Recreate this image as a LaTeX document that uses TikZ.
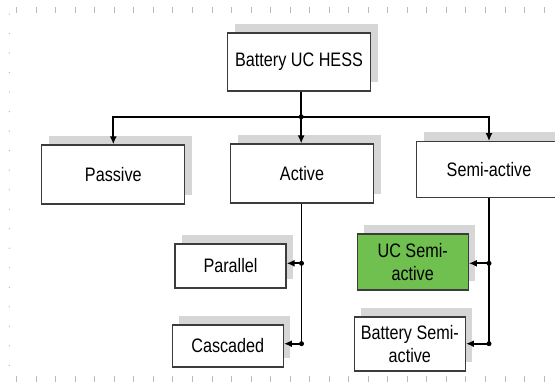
\documentclass[tikz,border=0pt]{standalone}
\usepackage{fontspec}
\setmainfont[FakeStretch=0.83]{Liberation Sans}
\usetikzlibrary{arrows.meta,shadows}
\definecolor{boxline}{RGB}{60,60,60}
\definecolor{shadowgray}{RGB}{214,214,214}
\definecolor{ucgreen}{RGB}{112,192,80}
\definecolor{tickgray}{RGB}{185,185,185}
\begin{document}
\begin{tikzpicture}[x=1pt,y=-1pt,
  box/.style={draw=boxline, line width=1.3pt, fill=white, inner sep=0pt, align=center,
    font=\fontsize{19.5}{22.5}\selectfont,
    general shadow={fill=shadowgray, shadow xshift=7pt, shadow yshift=9.5pt}},
  bigbox/.style={box, minimum width=143pt, minimum height=58pt},
  smallbox/.style={box, minimum width=111pt},
  conn/.style={line width=1.8pt, black},
  arr/.style={conn, -{Latex[length=8pt,width=7pt]}},
  jdot/.style={circle, fill=black, inner sep=0pt, minimum size=5pt},
]
\useasboundingbox (0,0) rectangle (555,381);
\clip (0,0) rectangle (555,381);
% ruler marks
\foreach \i in {0,...,27} {
  \draw[tickgray, line width=0.9pt] ({16.7+19.53*\i},7) -- ++(0,6);
  \draw[tickgray, line width=0.9pt] ({16.7+19.53*\i},376) -- ++(0,6);
}
\foreach \i in {0,...,18} {
  \fill[tickgray] (9.3,{14+19.52*\i}) circle (0.7);
}
% nodes
\node[bigbox] (hess) at (299,62) {Battery UC HESS};
\node[bigbox, minimum height=59pt] (pas) at (113.3,174.5) {Passive};
\node[bigbox, minimum height=59pt] (act) at (302,173.6) {Active};
\node[bigbox, minimum width=145pt, minimum height=56pt] (semi) at (489,169.8) {Semi-active};
\node[smallbox, minimum height=44pt] (par) at (230.5,266) {Parallel};
\node[smallbox, minimum height=42pt] (cas) at (227.8,346) {Cascaded};
\node[smallbox, minimum height=56pt, fill=ucgreen] (ucs) at (412.7,262) {UC Semi-\\active};
\node[smallbox, minimum height=54pt] (bsa) at (409.8,344) {Battery Semi-\\active};
% junctions
\coordinate (j) at (301.2,116.8);
\coordinate (a1) at (301.5,263.3);
\coordinate (a2) at (301.5,343.7);
\coordinate (s1) at (489,263.3);
\coordinate (s2) at (489,343.7);
% connectors
\draw[conn] (hess.south -| j) -- (j);
\draw[arr] (j) -| (pas.north);
\draw[arr] (j) -- (j |- act.north);
\draw[arr] (j) -| (semi.north);
\draw[conn] (act.south -| a1) -- (a2);
\draw[arr] (a1) -- (a1 -| par.east);
\draw[arr] (a2) -- (a2 -| cas.east);
\draw[conn] (semi.south -| s1) -- (s2);
\draw[arr] (s1) -- (s1 -| ucs.east);
\draw[arr] (s2) -- (s2 -| bsa.east);
\node[jdot] (dj) at (j) {};
\node[jdot] (da1) at (a1) {};
\node[jdot] (da2) at (a2) {};
\node[jdot] (ds1) at (s1) {};
\node[jdot] (ds2) at (s2) {};
\end{tikzpicture}
\end{document}
